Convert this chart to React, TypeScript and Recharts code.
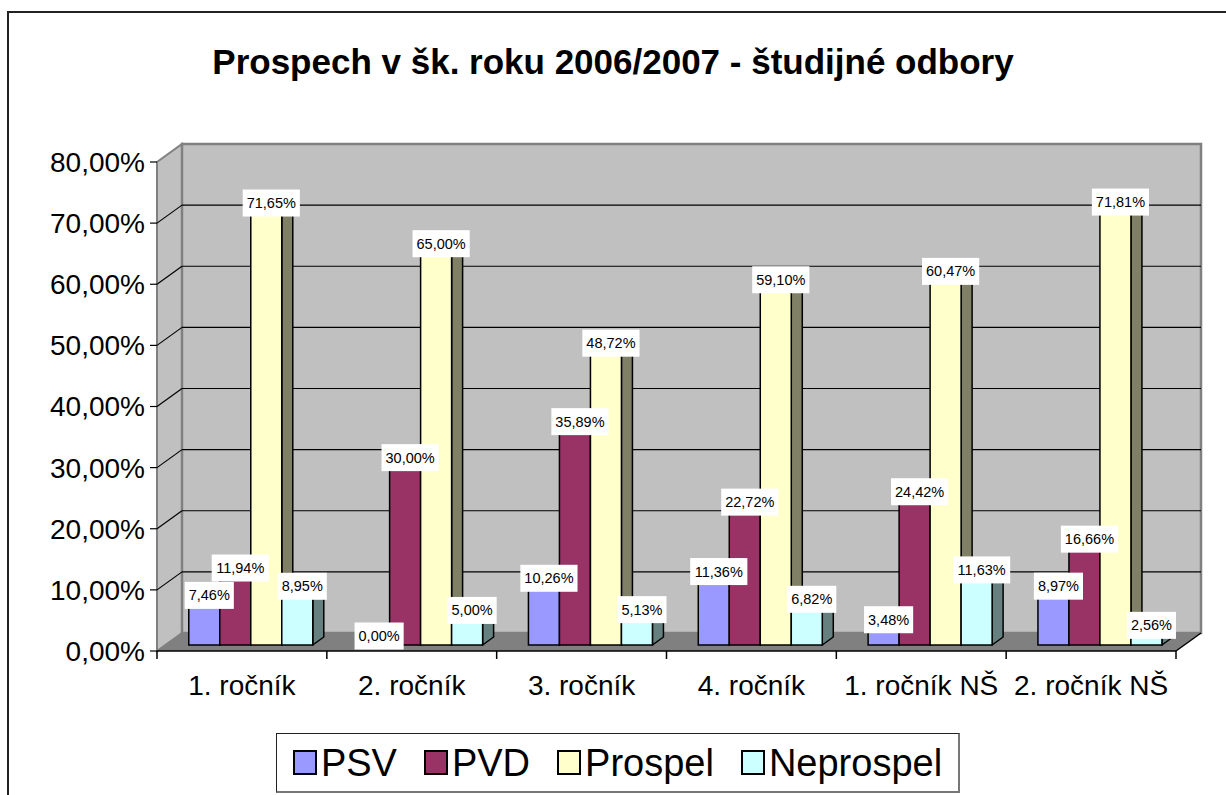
import React from "react";
import { BarChart, Bar, XAxis, YAxis, ReferenceArea, LabelList, Legend } from "recharts";

const categories = ["1. ročník", "2. ročník", "3. ročník", "4. ročník", "1. ročník NŠ", "2. ročník NŠ"];
const psv = [7.46, 0.0, 10.26, 11.36, 3.48, 8.97];
const pvd = [11.94, 30.0, 35.89, 22.72, 24.42, 16.66];
const prospel = [71.65, 65.0, 48.72, 59.1, 60.47, 71.81];
const neprospel = [8.95, 5.0, 5.13, 6.82, 11.63, 2.56];
const yTicks = [0, 10, 20, 30, 40, 50, 60, 70, 80];

const data = categories.map((name, i) => ({
  name,
  psv: psv[i],
  pvd: pvd[i],
  prospel: prospel[i],
  neprospel: neprospel[i],
}));

const series = [
  { key: "psv", name: "PSV", color: "#9999FF", side: "#4D4D80" },
  { key: "pvd", name: "PVD", color: "#993366", side: "#4D1A33" },
  { key: "prospel", name: "Prospel", color: "#FFFFCC", side: "#808066" },
  { key: "neprospel", name: "Neprospel", color: "#CCFFFF", side: "#668080" },
];

const FONT = "'Liberation Sans', Arial, sans-serif";

// 3d look: wall depth, bar position inside the depth, bar depth
const WALL_DX = 25;
const WALL_DY = 18;
const FRONT_DX = 8;
const FRONT_DY = 6;
const DEPTH_DX = 11;
const DEPTH_DY = 8;

const fmt = (v: number) => v.toFixed(2).replace(".", ",") + "%";

const charW: Record<string, number> = { ",": 0.278, "%": 0.889 };
const textWidth = (s: string, fs: number) =>
  s.split("").reduce((a, c) => a + (charW[c] ?? 0.556), 0) * fs;

const Walls = (props: any) => {
  const { x, y, width: w, height: h } = props;
  const bottom = y + h;
  const yOf = (t: number) => y + h * (1 - t / 80);
  return (
    <g>
      {/* left wall */}
      <polygon
        points={`${x},${y} ${x + WALL_DX},${y - WALL_DY} ${x + WALL_DX},${bottom - WALL_DY} ${x},${bottom}`}
        fill="#C0C0C0"
        stroke="#808080"
        strokeWidth={2}
      />
      {/* back wall */}
      <rect x={x + WALL_DX} y={y - WALL_DY} width={w} height={h} fill="#C0C0C0" stroke="#808080" strokeWidth={2.5} />
      {yTicks
        .filter((t) => t > 0 && t < 80)
        .map((t) => (
          <g key={t}>
            <line x1={x} y1={yOf(t)} x2={x + WALL_DX} y2={yOf(t) - WALL_DY} stroke="#000" strokeWidth={1.2} />
            <line
              x1={x + WALL_DX}
              y1={yOf(t) - WALL_DY}
              x2={x + WALL_DX + w}
              y2={yOf(t) - WALL_DY}
              stroke="#000"
              strokeWidth={1.2}
            />
          </g>
        ))}
      {/* floor */}
      <polygon
        points={`${x},${bottom} ${x + WALL_DX},${bottom - WALL_DY} ${x + w + WALL_DX},${bottom - WALL_DY} ${x + w},${bottom}`}
        fill="#808080"
      />
      <line x1={x + w} y1={bottom} x2={x + w + WALL_DX} y2={bottom - WALL_DY} stroke="#000" strokeWidth={1.5} />
    </g>
  );
};

const makeBar = (side: string) => (props: any) => {
  const { x, y, width, height, fill } = props;
  if (x == null || y == null || !(height > 0.5)) return <g />;
  const fx = x + FRONT_DX;
  const fy = y - FRONT_DY;
  const rx = fx + width;
  return (
    <g>
      <polygon
        points={`${rx},${fy} ${rx + DEPTH_DX},${fy - DEPTH_DY} ${rx + DEPTH_DX},${fy + height - DEPTH_DY} ${rx},${fy + height}`}
        fill={side}
        stroke="#000"
        strokeWidth={1.5}
        strokeLinejoin="round"
      />
      <polygon
        points={`${fx},${fy} ${fx + DEPTH_DX},${fy - DEPTH_DY} ${rx + DEPTH_DX},${fy - DEPTH_DY} ${rx},${fy}`}
        fill={fill}
        stroke="#000"
        strokeWidth={1.5}
        strokeLinejoin="round"
      />
      <rect x={fx} y={fy} width={width} height={height} fill={fill} stroke="#000" strokeWidth={1.5} />
    </g>
  );
};

const renderValueLabel = (props: any) => {
  const vb = props.viewBox || {};
  const x = props.x ?? vb.x;
  const y = props.y ?? vb.y;
  const width = props.width ?? vb.width;
  if (x == null || y == null) return null;
  const text = fmt(Number(props.value));
  const fs = 14.5;
  const bw = textWidth(text, fs) + 8;
  const bh = 27;
  const cx = x + FRONT_DX + width / 2 + 5;
  const cy = Math.min(y - FRONT_DY - 4, 636);
  return (
    <g>
      <rect x={cx - bw / 2} y={cy - bh / 2} width={bw} height={bh} fill="#FFFFFF" />
      <text x={cx} y={cy + 5} textAnchor="middle" fontSize={fs} fontFamily={FONT} fill="#000">
        {text}
      </text>
    </g>
  );
};

const XTick = (props: any) => {
  const { x, y, payload, index } = props;
  const half = payload?.offset ?? 1019 / 12;
  const last = index === categories.length - 1;
  return (
    <g>
      <line x1={x - half} y1={y} x2={x - half} y2={y + 8} stroke="#000" strokeWidth={1.5} />
      {last && <line x1={x + half} y1={y} x2={x + half} y2={y + 8} stroke="#000" strokeWidth={1.5} />}
      <text x={x} y={y + 44} textAnchor="middle" fontSize={28} fontFamily={FONT} fill="#000">
        {payload.value}
      </text>
    </g>
  );
};

const renderLegend = () => (
  <div
    style={{
      display: "flex",
      alignItems: "center",
      justifyContent: "center",
      height: "100%",
      gap: 27,
      fontFamily: FONT,
      fontSize: 38,
      color: "#000",
    }}
  >
    {series.map((s) => (
      <div key={s.key} style={{ display: "flex", alignItems: "center" }}>
        <span
          style={{
            display: "inline-block",
            width: 20,
            height: 21,
            background: s.color,
            border: "2px solid #000",
            marginRight: 4,
          }}
        />
        <span style={{ lineHeight: "42px" }}>{s.name}</span>
      </div>
    ))}
  </div>
);

export default function App() {
  return (
    <div style={{ position: "relative", width: 1226, height: 795, overflow: "hidden", background: "#fff" }}>
      <style>{"body{margin:0;overflow:hidden;}"}</style>
      <div
        style={{
          position: "absolute",
          left: 7,
          top: 11,
          width: 1400,
          height: 1000,
          border: "2px solid #222",
        }}
      />
      <div
        style={{
          position: "absolute",
          left: 0,
          top: 42,
          width: 1226,
          textAlign: "center",
          fontFamily: FONT,
          fontWeight: "bold",
          fontSize: 35,
          lineHeight: "40px",
          color: "#000",
        }}
      >
        Prospech v šk. roku 2006/2007 - študijné odbory
      </div>
      <div style={{ position: "absolute", left: 0, top: 0 }}>
        <BarChart
          width={1226}
          height={795}
          data={data}
          margin={{ top: 162, right: 50, bottom: 104, left: 8 }}
          barCategoryGap="14%"
          barGap={0}
        >
          <ReferenceArea y1={0} y2={80} shape={Walls} ifOverflow="visible" />
          <XAxis
            dataKey="name"
            height={40}
            interval={0}
            tickSize={0}
            tickMargin={0}
            tickLine={false}
            axisLine={{ stroke: "#000", strokeWidth: 1.5 }}
            tick={<XTick />}
          />
          <YAxis
            width={149}
            domain={[0, 80]}
            ticks={yTicks}
            interval={0}
            tickFormatter={fmt}
            axisLine={false}
            tickLine={{ stroke: "#000", strokeWidth: 1.2 }}
            tickSize={7}
            tickMargin={5}
            tick={{ fontSize: 28, fontFamily: FONT, fill: "#000" }}
          />
          <Legend
            verticalAlign="middle"
            align="center"
            layout="horizontal"
            content={renderLegend}
            wrapperStyle={{
              left: 276,
              top: 733,
              width: 684,
              height: 60,
              boxSizing: "border-box",
              borderTop: "1px solid #222",
              borderLeft: "1px solid #222",
              borderRight: "2px solid #777",
              borderBottom: "2px solid #777",
              background: "#fff",
            }}
          />
          {series.map((s) => (
            <Bar
              key={s.key}
              dataKey={s.key}
              name={s.name}
              fill={s.color}
              shape={makeBar(s.side)}
              isAnimationActive={false}
            >
              <LabelList dataKey={s.key} content={renderValueLabel} />
            </Bar>
          ))}
        </BarChart>
      </div>
    </div>
  );
}
